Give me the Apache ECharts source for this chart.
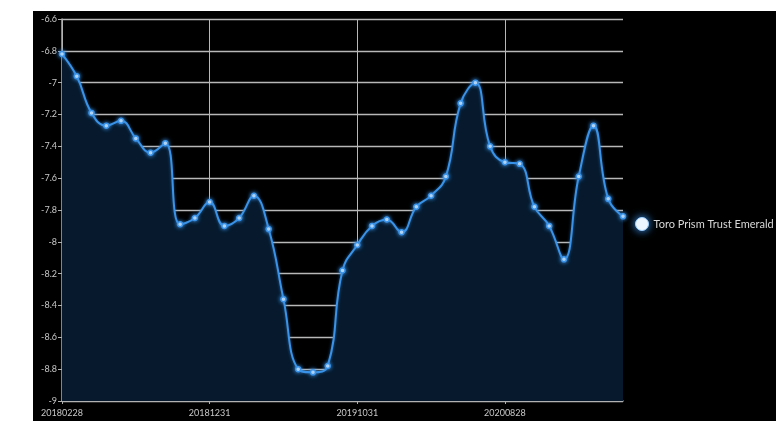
<!DOCTYPE html>
<html>
<head>
<meta charset="utf-8">
<script src="https://cdn.jsdelivr.net/npm/echarts@6/dist/echarts.min.js"></script>
<style>
html,body{margin:0;padding:0;background:#fff;width:776px;height:421px;overflow:hidden;}
#c{position:absolute;left:33px;top:11px;width:743px;height:410px;background:#000;}
</style>
</head>
<body>
<div id="c"></div>
<script>
const dates = [
  '20180228','20180330','20180430','20180531','20180629','20180731','20180831','20180928','20181031','20181130','20181231',
  '20190131','20190228','20190329','20190430','20190531','20190628','20190731','20190830','20190930','20191031','20191129','20191231',
  '20200131','20200228','20200331','20200430','20200529','20200630','20200731','20200828','20200930','20201030','20201130','20201231',
  '20210129','20210226','20210331','20210430'
];
const values = [
  -6.82,-6.96,-7.19,-7.27,-7.24,-7.35,-7.44,-7.38,-7.89,-7.85,-7.75,
  -7.90,-7.85,-7.71,-7.92,-8.36,-8.80,-8.82,-8.78,-8.18,-8.02,-7.90,-7.86,
  -7.94,-7.78,-7.71,-7.59,-7.13,-7.00,-7.40,-7.50,-7.51,-7.78,-7.90,-8.11,
  -7.59,-7.27,-7.73,-7.84
];
const seriesName = 'Toro Prism Trust Emerald Fund';
const yMin = -9, yMax = -6.6, yStep = 0.2;

const chart = echarts.init(document.getElementById('c'), null, {renderer:'canvas'});
const font = 'Lato, "Open Sans", sans-serif';
chart.setOption({
  backgroundColor: '#000',
  animation: false,
  textStyle: {fontFamily: font},
  grid: {left: 29, top: 8, width: 561, bottom: 20, containLabel: false,
         outerBoundsMode: 'none',
         show: true, backgroundColor: 'transparent', borderWidth: 0},
  legend: {
    orient: 'vertical', left: 597, top: 201,
    itemWidth: 13, itemHeight: 13, itemGap: 10,
    icon: 'circle',
    textStyle: {color: '#d8d8d8', fontSize: 11, fontFamily: font},
    itemStyle: {color: '#ffffff', borderColor: '#9fd0ff', borderWidth: 1, shadowBlur: 8, shadowColor: '#3d9cff'},
    data: [seriesName]
  },
  xAxis: {
    type: 'category', data: dates, boundaryGap: false,
    name: 'Date', nameLocation: 'middle', nameGap: 23,
    nameTextStyle: {color: '#888', fontSize: 9},
    axisLine: {lineStyle: {color: '#b0b0b0', width: 1.5}},
    axisTick: {show: true, interval: 9, length: 3, lineStyle: {color: '#b0b0b0'}},
    axisLabel: {interval: 9, color: '#c8c8c8', fontSize: 9, margin: 8},
    splitLine: {show: true, interval: 9, lineStyle: {color: '#b8b8b8', width: 1}}
  },
  yAxis: {
    type: 'value', min: yMin, max: yMax, interval: yStep,
    name: 'Value', nameLocation: 'middle', nameGap: 24,
    nameTextStyle: {color: '#999', fontSize: 8},
    axisLine: {show: true, lineStyle: {color: '#b0b0b0', width: 1.5}},
    axisTick: {show: true, length: 4, lineStyle: {color: '#b0b0b0'}},
    axisLabel: {color: '#c8c8c8', fontSize: 9, margin: 5,
      formatter: v => String(Math.round(v*10)/10)},
    splitLine: {show: true, lineStyle: {color: '#b8b8b8', width: 1.3}}
  },
  series: [{
    name: seriesName, type: 'line', data: values,
    smooth: 0.45,
    symbol: 'circle', symbolSize: 5, showSymbol: true,
    lineStyle: {color: '#3a93e8', width: 2, shadowBlur: 3, shadowColor: 'rgba(58,147,232,0.6)'},
    itemStyle: {color: '#ffffff', borderColor: '#3a93e8', borderWidth: 1.5, shadowBlur: 4, shadowColor: '#3a93e8'},
    areaStyle: {color: '#071a2d', opacity: 1, origin: 'start'}
  }]
});
</script>
</body>
</html>
